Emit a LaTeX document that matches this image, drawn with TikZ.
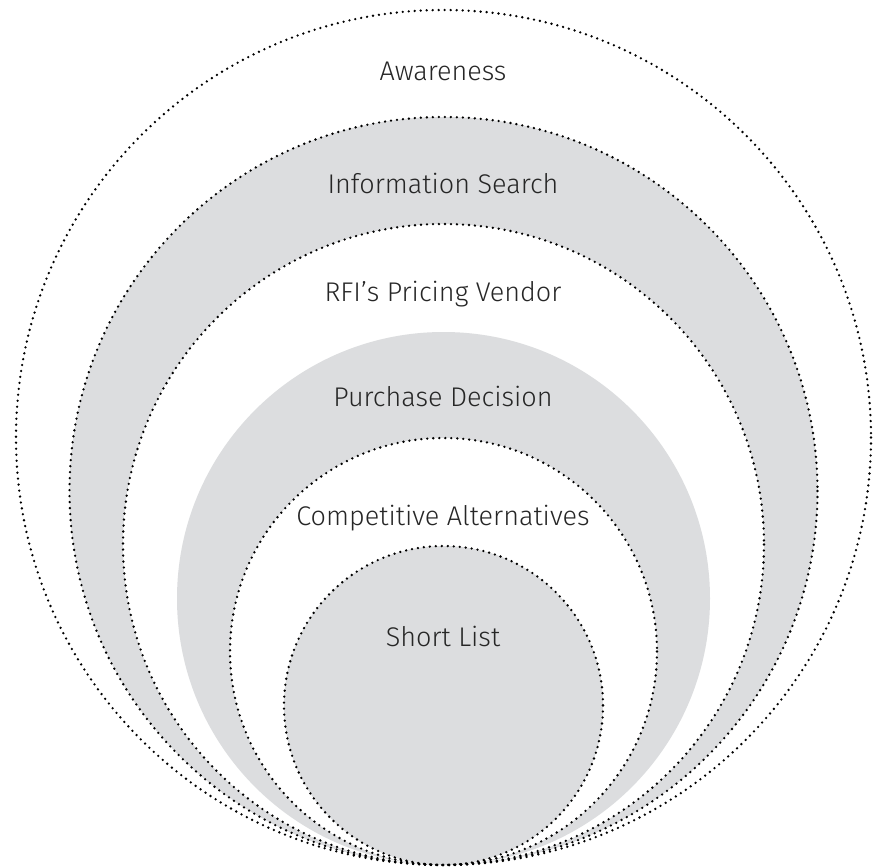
\documentclass[tikz,border=0pt]{standalone}
\usepackage{fontspec}
\setmainfont{Fira Sans Light}
\usepackage{tikz}
\usepackage{xcolor}
\definecolor{ringgray}{RGB}{220,221,223}
\tikzset{
  dotline/.style={line width=2.6pt, line cap=round, dash pattern=on 0pt off 6pt},
  stagelabel/.style={font=\fontsize{27}{32}\selectfont, text=black!85, inner sep=0pt}
}

\begin{document}
\begin{tikzpicture}[x=1pt, y=-1pt]
            \useasboundingbox (0, 0) rectangle (879, 867);
            % centres of the circles (all touch at the bottom)
            \coordinate (awareness-c) at (443.5, 437.5);
            \coordinate (search-c) at (443.5, 491);
            \coordinate (rfi-c) at (443.5, 544.5);
            \coordinate (purchase-c) at (443.5, 598.5);
            \coordinate (compet-c) at (443.5, 651.5);
            \coordinate (short-c) at (443.5, 705.5);
            % fills
            \fill[white] (awareness-c) circle (427.5);
            \fill[ringgray] (search-c) circle (374);
            \fill[white] (rfi-c) circle (320.5);
            \fill[ringgray] (purchase-c) circle (266.5);
            \fill[white] (compet-c) circle (213.5);
            \fill[ringgray] (short-c) circle (159.5);
            % dotted outlines
            \draw[dotline] (awareness-c) circle (427.5);
            \draw[dotline] (search-c) circle (374);
            \draw[dotline] (rfi-c) circle (320.5);
            \draw[dotline] (compet-c) circle (213.5);
            \draw[dotline] (short-c) circle (159.5);
            % labels
            \node[stagelabel] (awareness) at (443, 71) {Awareness};
            \node[stagelabel] (search) at (443, 183) {Information Search};
            \node[stagelabel] (rfi) at (443, 294) {RFI’s Pricing Vendor};
            \node[stagelabel] (purchase) at (443, 396) {Purchase Decision};
            \node[stagelabel] (compet) at (443, 518) {Competitive Alternatives};
            \node[stagelabel] (short) at (443, 636) {Short List};
        \end{tikzpicture}
\end{document}
